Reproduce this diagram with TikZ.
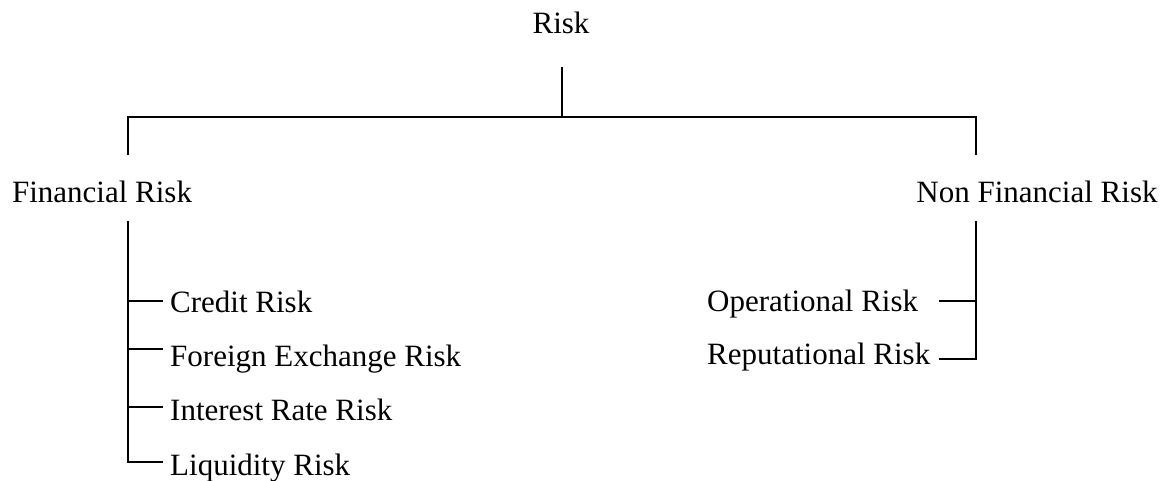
\documentclass[tikz,border=0pt]{standalone}
\usepackage{fontspec}
\setmainfont{Liberation Serif}
\begin{document}
\begin{tikzpicture}[x=1pt,y=-1pt,
  lbl/.style={inner sep=0pt, font=\fontsize{31}{36}\selectfont},
  conn/.style={line width=2.5pt, line join=miter}]
\useasboundingbox (0,0) rectangle (1165,480);
% labels
\node[lbl, anchor=base] (risk) at (561,33) {Risk};
\node[lbl, anchor=base] (fin) at (102,202) {Financial Risk};
\node[lbl, anchor=base] (nonfin) at (1037,202) {Non Financial Risk};
\node[lbl, anchor=base west] (credit) at (170,312) {Credit Risk};
\node[lbl, anchor=base west] (fx) at (170,366) {Foreign Exchange Risk};
\node[lbl, anchor=base west] (ir) at (170,420) {Interest Rate Risk};
\node[lbl, anchor=base west] (liq) at (170,475) {Liquidity Risk};
\node[lbl, anchor=base west] (op) at (707,311) {Operational Risk};
\node[lbl, anchor=base west] (rep) at (707,364) {Reputational Risk};
% junction coordinates
\coordinate (rtop) at (562,67);
\coordinate (rjoin) at (562,117);
\coordinate (ljoin) at (128,117);
\coordinate (njoin) at (976,117);
\coordinate (lbot) at (128,155);
\coordinate (nbot) at (976,155);
\coordinate (ftop) at (128,221);
\coordinate (fend) at (128,462);
\coordinate (c1) at (163,301);
\coordinate (c2) at (163,349);
\coordinate (c3) at (163,407);
\coordinate (c4) at (163,462);
\coordinate (ntop) at (976,221);
\coordinate (nend) at (976,359);
\coordinate (o1) at (939,301);
\coordinate (o2) at (939,359);
% connectors
\draw[conn] (rtop) -- (rjoin);
\draw[conn] (lbot) -- (ljoin) -- (njoin) -- (nbot);
\draw[conn] (ftop) -- (fend) -- (c4);
\draw[conn] (c1) -- (c1 -| ftop);
\draw[conn] (c2) -- (c2 -| ftop);
\draw[conn] (c3) -- (c3 -| ftop);
\draw[conn] (ntop) -- (nend) -- (o2);
\draw[conn] (o1) -- (o1 -| ntop);
\end{tikzpicture}
\end{document}
